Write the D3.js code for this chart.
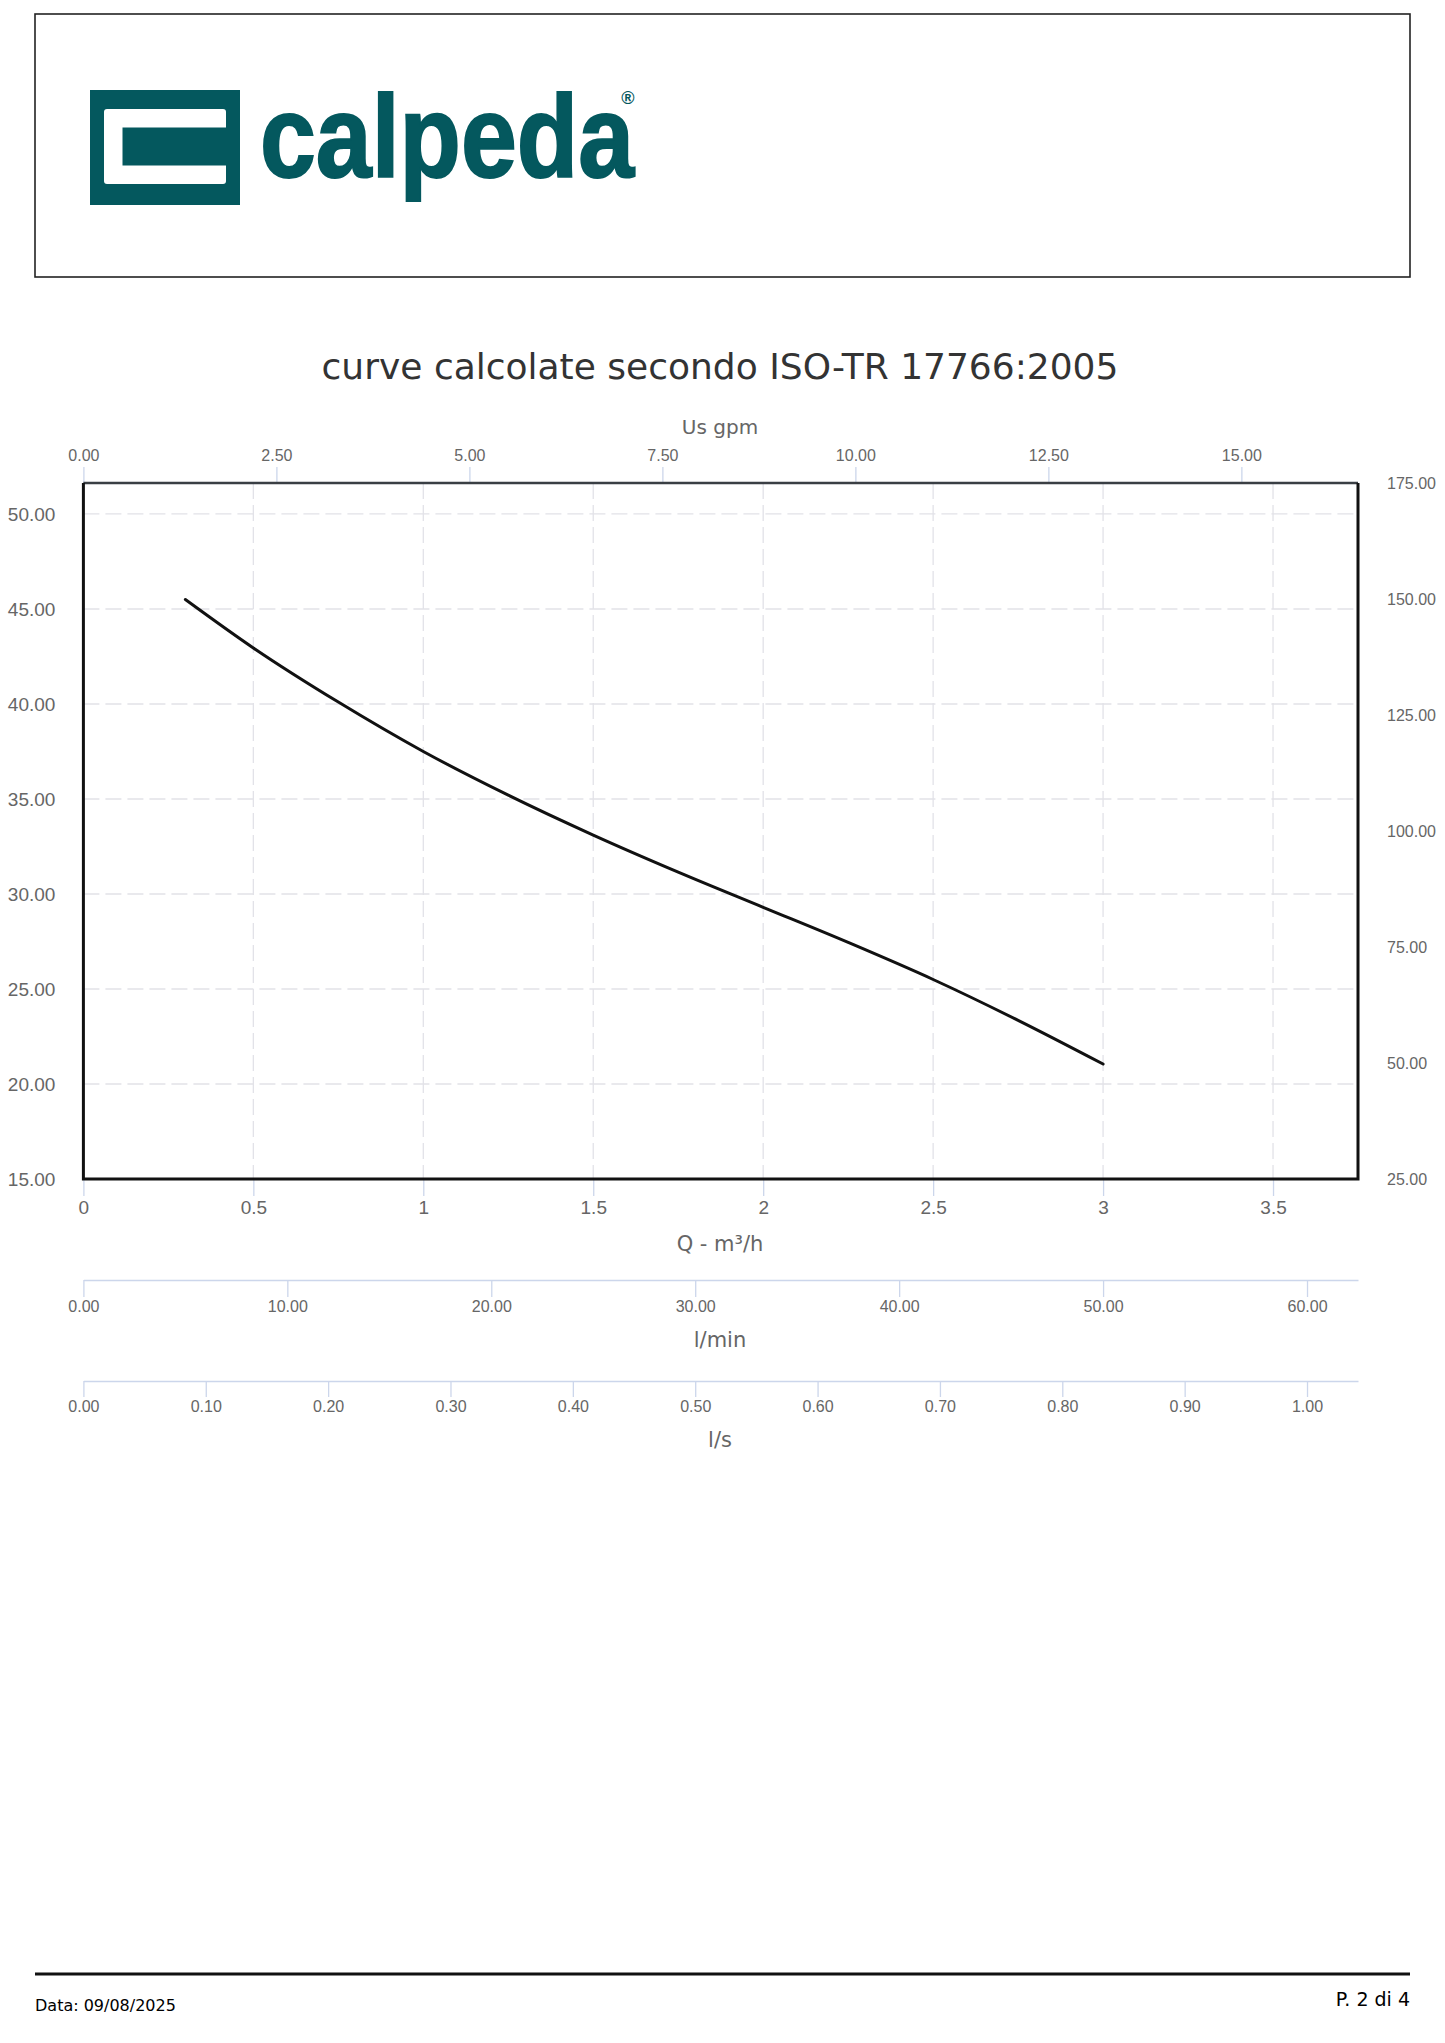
<!DOCTYPE html>
<html>
  <head>
    <meta charset="utf-8">
    <title>curve calcolate secondo ISO-TR 17766:2005</title>
    <script src="https://cdn.jsdelivr.net/npm/d3@7"></script>
    <style>
      html, body { margin: 0; padding: 0; background: #fff; }
      svg { display: block; font-family: "DejaVu Sans", sans-serif; }
      .tick line { stroke: #ccd6eb; stroke-width: 1.3; }
      .tick text { fill: #666; }
      .axis .domain { stroke: #ccd6eb; stroke-width: 1.5; }
      .grid { stroke: #e2e2e8; stroke-width: 1.3; stroke-dasharray: 16,6; }
    </style>
  </head>
  <body>
    <script type="text/javascript">

    var width = 1445,
        height = 2043;

    // pump curve: flow (m3/h) vs head (m)
    var flowM3h = [0.3, 0.5, 0.75, 1.0, 1.25, 1.5, 1.75, 2.0, 2.25, 2.5, 2.75, 3.0];
    var headM   = [45.5, 42.95, 40.1, 37.5, 35.2, 33.1, 31.15, 29.3, 27.45, 25.5, 23.35, 21.05];

    // tick labels of every axis
    var qTicks     = [0, 0.5, 1, 1.5, 2, 2.5, 3, 3.5];
    var headTicks  = [15, 20, 25, 30, 35, 40, 45, 50];
    var rightTicks = [25, 50, 75, 100, 125, 150, 175];
    var gpmTicks   = [0, 2.5, 5, 7.5, 10, 12.5, 15];
    var lminTicks  = [0, 10, 20, 30, 40, 50, 60];
    var lsTicks    = [0, 0.1, 0.2, 0.3, 0.4, 0.5, 0.6, 0.7, 0.8, 0.9, 1.0];

    var qMax = 3.75,
        headMin = 15, headMax = 51.63;

    // plot box (don't call these top/left: window.top is read-only)
    var pLeft = 83.4, pRight = 1358, pTop = 483, pBottom = 1179;

    var svg = d3.select("body").append("svg")
        .attr("width", width)
        .attr("height", height);

    // ---- header with logo
    svg.append("rect")
        .attr("x", 35).attr("y", 14)
        .attr("width", 1375).attr("height", 263)
        .attr("fill", "none")
        .attr("stroke", "#222")
        .attr("stroke-width", 1.6);

    var teal = "#04585e";
    var logo = svg.append("g");
    logo.append("rect").attr("x", 90).attr("y", 90).attr("width", 150).attr("height", 115).attr("fill", teal);
    logo.append("rect").attr("x", 104).attr("y", 109).attr("width", 122).attr("height", 75).attr("rx", 3).attr("fill", "#fff");
    logo.append("rect").attr("x", 122.5).attr("y", 127.5).attr("width", 103.5).attr("height", 38).attr("fill", teal);
    logo.append("text")
        .attr("x", 260).attr("y", 177)
        .attr("textLength", 374)
        .attr("lengthAdjust", "spacingAndGlyphs")
        .style("font-family", "'Liberation Sans', Arial, sans-serif")
        .style("font-weight", "bold")
        .style("font-size", "117px")
        .attr("fill", teal)
        .attr("stroke", teal)
        .attr("stroke-width", 2)
        .text("calpeda");
    logo.append("text")
        .attr("x", 628).attr("y", 104)
        .attr("text-anchor", "middle")
        .style("font-family", "'Liberation Sans', Arial, sans-serif")
        .style("font-weight", "bold")
        .style("font-size", "18px")
        .attr("fill", teal)
        .text("®");

    // ---- title
    svg.append("text")
        .attr("x", 720).attr("y", 379)
        .attr("text-anchor", "middle")
        .style("font-size", "36px")
        .attr("fill", "#333")
        .text("curve calcolate secondo ISO-TR 17766:2005");

    // ---- scales
    var x = d3.scaleLinear().domain([0, qMax]).range([pLeft, pRight]);
    var y = d3.scaleLinear().domain([headMin, headMax]).range([pBottom, pTop]);
    var yRight = d3.scaleLinear().domain([25, 175]).range([pBottom, pTop]);
    var xGpm = d3.scaleLinear().domain([0, qMax * 4.40287]).range([pLeft, pRight]);
    var xLmin = d3.scaleLinear().domain([0, qMax * 1000 / 60]).range([pLeft, pRight]);
    var xLs = d3.scaleLinear().domain([0, qMax / 3.6]).range([pLeft, pRight]);

    var f2 = d3.format(".2f");

    // ---- grid
    svg.append("g").selectAll("line")
        .data(headTicks.filter(function(d) { return d > headMin; }))
        .enter().append("line")
        .attr("class", "grid")
        .attr("x1", pLeft).attr("x2", pRight)
        .attr("y1", function(d) { return y(d); })
        .attr("y2", function(d) { return y(d); });

    svg.append("g").selectAll("line")
        .data(qTicks.filter(function(d) { return d > 0; }))
        .enter().append("line")
        .attr("class", "grid")
        .attr("y1", pTop).attr("y2", pBottom)
        .attr("x1", function(d) { return x(d); })
        .attr("x2", function(d) { return x(d); });

    // ---- axes
    function styleAxis(g, size) {
      g.selectAll(".tick text").style("font-size", size + "px");
      return g;
    }

    // top: US gpm
    var gTop = svg.append("g").attr("class", "axis")
        .attr("transform", "translate(0," + pTop + ")")
        .call(d3.axisTop(xGpm).tickValues(gpmTicks).tickFormat(f2).tickSize(16).tickSizeOuter(0).tickPadding(6));
    gTop.select(".domain").remove();
    styleAxis(gTop, 16);

    svg.append("text")
        .attr("x", 720).attr("y", 434)
        .attr("text-anchor", "middle")
        .style("font-size", "20px")
        .attr("fill", "#666")
        .text("Us gpm");

    // left: head m
    var gLeft = svg.append("g")
        .attr("transform", "translate(" + pLeft + ",0)")
        .call(d3.axisLeft(y).tickValues(headTicks).tickFormat(f2).tickSize(0).tickPadding(28));
    gLeft.select(".domain").remove();
    styleAxis(gLeft, 19);

    // right
    var gRight = svg.append("g")
        .attr("transform", "translate(" + pRight + ",0)")
        .call(d3.axisRight(yRight).tickValues(rightTicks).tickFormat(f2).tickSize(0).tickPadding(29));
    gRight.select(".domain").remove();
    styleAxis(gRight, 16);

    // bottom: Q m3/h
    var gBottom = svg.append("g").attr("class", "axis")
        .attr("transform", "translate(0," + pBottom + ")")
        .call(d3.axisBottom(x).tickValues(qTicks).tickFormat(d3.format("~g")).tickSize(17).tickSizeOuter(0).tickPadding(5));
    gBottom.select(".domain").remove();
    styleAxis(gBottom, 19);

    svg.append("text")
        .attr("x", 720).attr("y", 1251)
        .attr("text-anchor", "middle")
        .style("font-size", "21px")
        .attr("fill", "#666")
        .text("Q - m³/h");

    // l/min
    var gLmin = svg.append("g").attr("class", "axis")
        .attr("transform", "translate(0,1280)")
        .call(d3.axisBottom(xLmin).tickValues(lminTicks).tickFormat(f2).tickSize(17).tickSizeOuter(0).tickPadding(4));
    styleAxis(gLmin, 16);

    svg.append("text")
        .attr("x", 720).attr("y", 1347)
        .attr("text-anchor", "middle")
        .style("font-size", "21px")
        .attr("fill", "#666")
        .text("l/min");

    // l/s
    var gLs = svg.append("g").attr("class", "axis")
        .attr("transform", "translate(0,1381)")
        .call(d3.axisBottom(xLs).tickValues(lsTicks).tickFormat(f2).tickSize(16).tickSizeOuter(0).tickPadding(4));
    styleAxis(gLs, 16);

    svg.append("text")
        .attr("x", 720).attr("y", 1447)
        .attr("text-anchor", "middle")
        .style("font-size", "21px")
        .attr("fill", "#666")
        .text("l/s");

    // ---- plot frame
    svg.append("line").attr("x1", pLeft).attr("x2", pRight).attr("y1", pTop).attr("y2", pTop)
        .attr("stroke", "#3a3f44").attr("stroke-width", 2.5);
    svg.append("path")
        .attr("d", "M" + pLeft + "," + pTop + "V" + pBottom + "H" + pRight + "V" + pTop)
        .attr("fill", "none")
        .attr("stroke", "#111")
        .attr("stroke-width", 3);

    // ---- curve
    var line = d3.line()
        .x(function(d) { return x(d[0]); })
        .y(function(d) { return y(d[1]); })
        .curve(d3.curveMonotoneX);

    svg.append("path")
        .datum(d3.zip(flowM3h, headM))
        .attr("d", line)
        .attr("fill", "none")
        .attr("stroke", "#111")
        .attr("stroke-width", 3)
        .attr("stroke-linecap", "round");

    // ---- footer
    svg.append("line")
        .attr("x1", 35).attr("x2", 1410)
        .attr("y1", 1974).attr("y2", 1974)
        .attr("stroke", "#111").attr("stroke-width", 3);

    svg.append("text")
        .attr("x", 35).attr("y", 2011)
        .style("font-size", "16px")
        .attr("fill", "#000")
        .text("Data: 09/08/2025");

    svg.append("text")
        .attr("x", 1410).attr("y", 2006)
        .attr("text-anchor", "end")
        .style("font-size", "19px")
        .attr("fill", "#000")
        .text("P. 2 di 4");

    </script>
  </body>
</html>
